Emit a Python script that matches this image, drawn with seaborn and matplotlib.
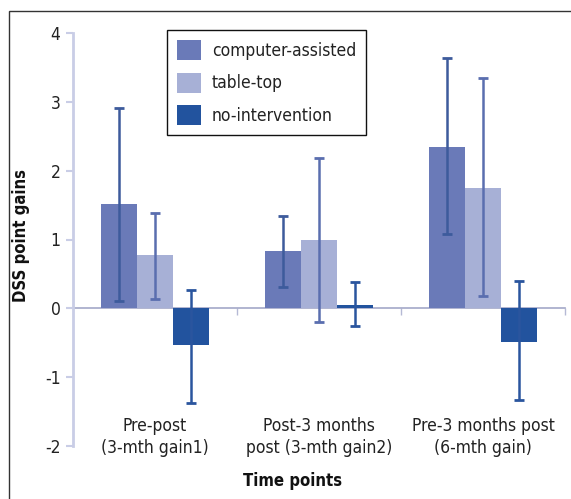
import matplotlib
matplotlib.use("Agg")
import matplotlib.pyplot as plt
import matplotlib.patches as mpatches
from matplotlib import font_manager
import seaborn as sns
import pandas as pd
import numpy as np

# ---- data ----
time_points = ["Pre-post\n(3-mth gain1)", "Post-3 months\npost (3-mth gain2)", "Pre-3 months post\n(6-mth gain)"]
groups = ["computer-assisted", "table-top", "no-intervention"]
computer_assisted = [1.51, 0.83, 2.35]
table_top = [0.78, 0.99, 1.75]
no_intervention = [-0.53, 0.05, -0.49]
computer_lo = [0.11, 0.31, 1.08]
computer_hi = [2.91, 1.34, 3.63]
table_lo = [0.14, -0.20, 0.175]
table_hi = [1.38, 2.18, 3.34]
none_lo = [-1.37, -0.25, -1.33]
none_hi = [0.27, 0.38, 0.40]
y_ticks = [-2, -1, 0, 1, 2, 3, 4]

colors = ["#6a7ab8", "#a7b0d6", "#22539e"]
err_colors = ["#3d5b9c", "#5a6eaf", "#2a559e"]

values = [computer_assisted, table_top, no_intervention]
lows = [computer_lo, table_lo, none_lo]
highs = [computer_hi, table_hi, none_hi]

rows = []
for g, vals in zip(groups, values):
    for t, v in zip(time_points, vals):
        rows.append({"time": t, "group": g, "gain": v})
df = pd.DataFrame(rows)

sns.set_style("white")
names = {f.name for f in font_manager.fontManager.ttflist}
fam = "Liberation Sans Narrow" if "Liberation Sans Narrow" in names else "DejaVu Sans"
plt.rcParams["font.family"] = [fam, "DejaVu Sans"]
if fam == "DejaVu Sans":
    plt.rcParams["font.stretch"] = "condensed"

W, H = 571, 499
fig = plt.figure(figsize=(W / 100, H / 100), dpi=100)
ax = fig.add_axes([73 / W, 1 - 446 / H, (565 - 73) / W, (446 - 33) / H])

sns.barplot(data=df, x="time", y="gain", hue="group", order=time_points,
            hue_order=groups, palette=colors, width=0.66, gap=0,
            errorbar=None, saturation=1, ax=ax, edgecolor="none", linewidth=0)

for cont, vals, lo, hi, ec in zip(ax.containers, values, lows, highs, err_colors):
    xs = [b.get_x() + b.get_width() / 2 for b in cont]
    v = np.array(vals)
    yerr = [v - np.array(lo), np.array(hi) - v]
    ax.errorbar(xs, v, yerr=yerr, fmt="none", ecolor=ec, elinewidth=1.8,
                capsize=3.5, capthick=2, zorder=5)

ax.set_ylim(-2, 4)
ax.set_xlim(-0.5, 2.5)
ax.set_yticks(y_ticks)
ax.set_yticklabels([str(t) for t in y_ticks])

for s in ["top", "right", "bottom"]:
    ax.spines[s].set_visible(False)
ax.spines["left"].set_color("#c9cde6")
ax.spines["left"].set_linewidth(2)
ax.tick_params(axis="y", length=5, width=1.5, color="#c9cde6", labelsize=12.5,
               pad=4, labelcolor="#222222", left=True, direction="out")
ax.tick_params(axis="x", length=0, labelsize=12.5, pad=-21, labelcolor="#222222")
for lab in ax.get_xticklabels():
    lab.set_linespacing(1.28)

# zero axis line with separators
sec = ax.secondary_xaxis(1 / 3)
sec.set_xticks([0.5, 1.5, 2.5])
sec.set_xticklabels([])
sec.spines["bottom"].set_color("#a3a8c8")
sec.spines["bottom"].set_linewidth(1.2)
sec.tick_params(axis="x", length=5, width=1, color="#b5b9d5", direction="out")

ax.set_xlabel("Time points", fontsize=12, fontweight="bold", color="#111111")
ax.xaxis.set_label_coords((293 - 73) / 492, (446 - 472) / 413)
ax.set_ylabel("DSS point gains", fontsize=12, fontweight="bold", color="#111111")
ax.yaxis.set_label_coords((30 - 73) / 492, (446 - 235) / 413)

handles, labels = ax.get_legend_handles_labels()
if ax.get_legend() is not None:
    ax.get_legend().remove()
leg = fig.legend(handles[:3], labels[:3], loc="upper left",
                 bbox_to_anchor=(167 / W, 1 - 30 / H), bbox_transform=fig.transFigure,
                 borderaxespad=0, frameon=True, fancybox=False, shadow=False,
                 fontsize=12.5, handlelength=1.4, handleheight=1.4,
                 handletextpad=0.6, labelspacing=0.72, borderpad=0.58)
leg.get_frame().set_edgecolor("#111111")
leg.get_frame().set_linewidth(1)
leg.get_frame().set_alpha(1)
for t in leg.get_texts():
    t.set_color("#222222")

# outer frame
fig.patches.append(mpatches.Rectangle((9 / W, -0.1), 1.2, 1 - 11 / H + 0.1,
                                      transform=fig.transFigure, fill=False,
                                      edgecolor="#333333", linewidth=1, clip_on=False))

fig.savefig("out.png", dpi=100)
